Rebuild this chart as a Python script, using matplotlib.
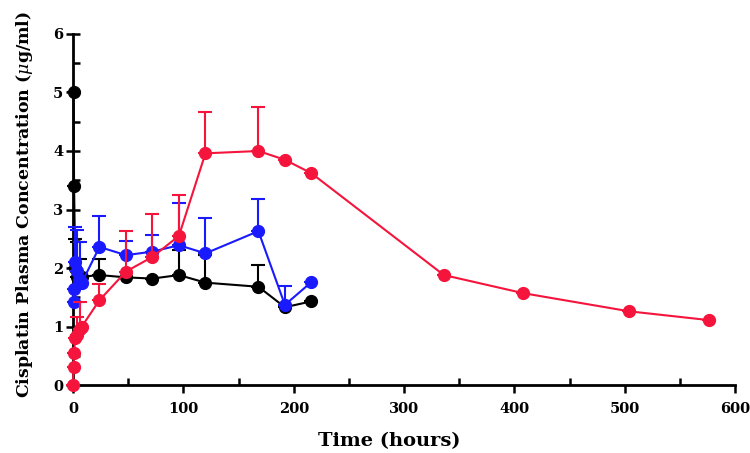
import matplotlib
matplotlib.use("Agg")
import matplotlib.pyplot as plt
from matplotlib.ticker import MultipleLocator

# ---- data ----
black_t = [0.5, 1, 2, 4, 6, 8, 24, 48, 72, 96, 120, 168, 192, 216]
black_y = [5.0, 3.4, 2.0, 1.85, 1.85, 1.85, 1.88, 1.84, 1.82, 1.88, 1.75, 1.68, 1.33, 1.43]
black_e = [0, 0, 0.5, 0.6, 0.3, 0, 0.27, 0, 0, 0.42, 0.48, 0.37, 0, 0]

blue_t = [0.5, 1, 2, 4, 6, 8, 24, 48, 72, 96, 120, 168, 192, 216]
blue_y = [1.42, 1.65, 2.1, 1.95, 1.8, 1.75, 2.36, 2.22, 2.28, 2.39, 2.25, 2.63, 1.37, 1.76]
blue_e = [0, 0, 0.6, 0.7, 0.65, 0, 0.53, 0.25, 0.28, 0.72, 0.6, 0.55, 0.32, 0]

red_t = [0, 0.5, 1, 2, 4, 6, 8, 24, 48, 72, 96, 120, 168, 192, 216, 336, 408, 504, 576]
red_y = [0, 0.3, 0.55, 0.8, 0.85, 0.95, 1.0, 1.45, 1.94, 2.19, 2.55, 3.96, 4.0, 3.85, 3.62, 1.88, 1.57, 1.26, 1.11]
red_e = [0, 0, 0, 0, 0.32, 0.47, 0, 0.28, 0.7, 0.73, 0.7, 0.71, 0.75, 0, 0, 0, 0, 0, 0]

x_ticks = [0, 100, 200, 300, 400, 500, 600]
y_ticks = [0, 1, 2, 3, 4, 5, 6]

plt.rcParams['font.family'] = ['DejaVu Serif']
plt.rcParams['mathtext.fontset'] = 'dejavuserif'

fig = plt.figure(figsize=(7.5, 4.53), dpi=100)
ax = fig.add_axes([0.0973, 0.150, 0.883, 0.775])

series = [
    (black_t, black_y, black_e, '#000000', 2),
    (blue_t, blue_y, blue_e, '#1a1aff', 3),
    (red_t, red_y, red_e, '#f5143c', 4),
]
for t, y, e, c, z in series:
    lower = [0] * len(e)
    eb = ax.errorbar(t, y, yerr=[lower, e], color=c, ecolor=c, elinewidth=1.5,
                     capsize=5, capthick=1.5, linewidth=1.5, marker='o',
                     markersize=8.5, zorder=z, clip_on=False)
    for art in eb.lines[1]:
        art.set_clip_on(False)
    for art in eb.lines[2]:
        art.set_clip_on(False)
    eb.lines[0].set_clip_on(False)

ax.set_xlim(0, 600)
ax.set_ylim(0, 6)
ax.set_xticks(x_ticks)
ax.set_yticks(y_ticks)
ax.xaxis.set_minor_locator(MultipleLocator(50))
ax.yaxis.set_minor_locator(MultipleLocator(0.5))

for s in ['top', 'right']:
    ax.spines[s].set_visible(False)
for s in ['left', 'bottom']:
    ax.spines[s].set_linewidth(2)
    ax.spines[s].set_zorder(1)

ax.tick_params(axis='x', which='major', direction='out', length=6, width=1.8, labelsize=10.5, pad=6)
ax.tick_params(axis='x', which='minor', direction='in', length=5, width=1.8)
ax.tick_params(axis='y', which='major', direction='inout', length=10, width=1.8, labelsize=10.5, pad=2)
ax.tick_params(axis='y', which='minor', direction='in', length=5, width=1.8)
for lab in ax.get_xticklabels() + ax.get_yticklabels():
    lab.set_fontweight('bold')

ax.set_xlabel('Time (hours)', fontsize=14, fontweight='bold')
ax.set_ylabel(r'Cisplatin Plasma Concentration ($\mu$g/ml)', fontsize=12.5, fontweight='bold')
ax.xaxis.set_label_coords(0.478, -0.135)
ax.yaxis.set_label_coords(-0.058, 0.515)

fig.savefig('out.png', dpi=100)
